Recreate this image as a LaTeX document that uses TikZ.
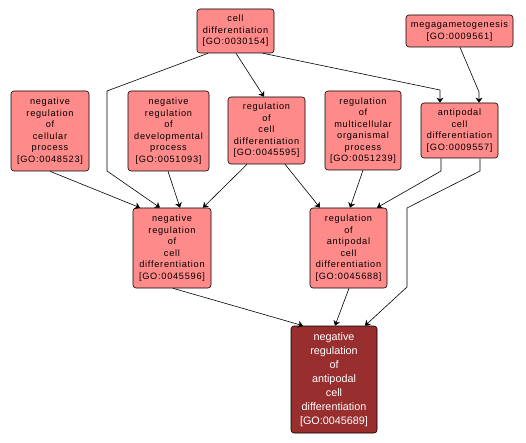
\documentclass[tikz,border=0pt]{standalone}
\usepackage{fontspec}
\setmainfont{Liberation Sans}
\newfontfamily\gofont[LetterSpace=8]{Liberation Sans}
\usetikzlibrary{arrows.meta}
\definecolor{gopink}{RGB}{255,138,138}
\definecolor{godark}{RGB}{153,46,46}
\tikzset{
  term/.style={draw=black, line width=0.6pt, rounded corners=3pt, fill=gopink, align=center,
    inner sep=0pt, font=\gofont\fontsize{9.2}{11.5}\selectfont, text=black},
  focus/.style={term, fill=godark, text=white, font=\fontsize{10.8}{14}\selectfont},
  edge/.style={draw=black, line width=0.6pt, -{Stealth[length=5pt,width=7pt,inset=1.5pt]}}
}
\begin{document}
\begin{tikzpicture}[x=1pt,y=-1pt]
\useasboundingbox (0,0) rectangle (526,443);
\node[term, minimum width=77pt, minimum height=44pt] (A) at (235.5,31) {cell\\differentiation\\{[GO:0030154]}};
\node[term, minimum width=107pt, minimum height=32pt] (B) at (459.5,31) {megagametogenesis\\{[GO:0009561]}};
\node[term, minimum width=78pt, minimum height=80pt] (C) at (50,131) {negative\\regulation\\of\\cellular\\process\\{[GO:0048523]}};
\node[term, minimum width=81pt, minimum height=80pt] (D) at (168.5,131) {negative\\regulation\\of\\developmental\\process\\{[GO:0051093]}};
\node[term, minimum width=77pt, minimum height=67pt] (E) at (266.5,130.5) {regulation\\of\\cell\\differentiation\\{[GO:0045595]}};
\node[term, minimum width=76pt, minimum height=79pt] (F) at (363,130.5) {regulation\\of\\multicellular\\organismal\\process\\{[GO:0051239]}};
\node[term, minimum width=77pt, minimum height=55pt] (G) at (459.5,130.5) {antipodal\\cell\\differentiation\\{[GO:0009557]}};
\node[term, minimum width=78pt, minimum height=80pt] (H) at (172,248) {negative\\regulation\\of\\cell\\differentiation\\{[GO:0045596]}};
\node[term, minimum width=77pt, minimum height=80pt] (I) at (348.5,248) {regulation\\of\\antipodal\\cell\\differentiation\\{[GO:0045688]}};
\node[focus, minimum width=86pt, minimum height=107pt] (J) at (334,379.5) {negative\\regulation\\of\\antipodal\\cell\\differentiation\\{[GO:0045689]}};
\coordinate (b1) at (107,91);
\coordinate (b2) at (107,171);
\coordinate (b3) at (440,90);
\coordinate (b4) at (479,92);
\coordinate (b5) at (441,171);
\coordinate (b6) at (480,171);
\coordinate (b7) at (407,208);
\coordinate (b8) at (407,287);
\draw[edge] ([xshift=-27.5pt]A.south) -- (b1) -- (b2) -- ([xshift=-12pt]H.north);
\draw[edge] ([xshift=0.5pt]A.south) -- ([xshift=-2.5pt]E.north);
\draw[edge] ([xshift=27.5pt]A.south) -- (b3) -- ([xshift=-19.5pt]G.north);
\draw[edge] ([xshift=0.5pt]B.south) -- (b4) -- ([xshift=19.5pt]G.north);
\draw[edge] (C.south) -- ([xshift=-32pt]H.north);
\draw[edge] ([xshift=-0.5pt]D.south) -- ([xshift=8pt]H.north);
\draw[edge] ([xshift=-19.5pt]E.south) -- ([xshift=31pt]H.north);
\draw[edge] ([xshift=18.5pt]E.south) -- ([xshift=-28.5pt]I.north);
\draw[edge] (F.south) -- ([xshift=1.5pt]I.north);
\draw[edge] ([xshift=-18.5pt]G.south) -- (b5) -- ([xshift=28.5pt]I.north);
\draw[edge] ([xshift=20.5pt]G.south) -- (b6) -- (b7) -- (b8) -- ([xshift=31pt]J.north);
\draw[edge] ([xshift=1pt]H.south) -- ([xshift=-31pt]J.north);
\draw[edge] ([xshift=0.5pt]I.south) -- ([xshift=1pt]J.north);
\end{tikzpicture}
\end{document}
